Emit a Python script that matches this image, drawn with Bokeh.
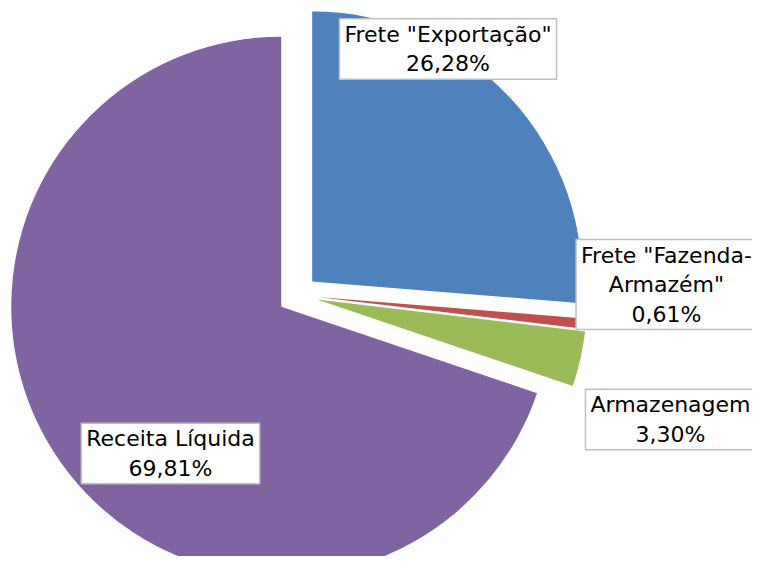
import math
from bokeh.plotting import figure
from bokeh.models import Range1d, ColumnDataSource
from bokeh.core.properties import value
from bokeh.embed import file_html
from bokeh.resources import INLINE

# ---- data ----
categories = ['Frete "Exportação"', 'Frete "Fazenda-\nArmazém"', 'Armazenagem', 'Receita Líquida']
shares = [26.28, 0.61, 3.30, 69.81]
colors = ["#4F81BD", "#C0504D", "#9BBB59", "#8064A2"]

# ---- layout (pixel-like coordinates, y measured downward from top) ----
W, H = 768, 572
FW, FH = 752, 556
CX, CY = 297.0, 294.5
RADIUS = 270.0
EXPLODE = 20.0
label_pos = [(447.5, 48.5), (666.0, 284.0), (670.0, 419.0), (170.0, 453.0)]

p = figure(width=FW, height=FH, output_backend="svg", toolbar_location=None,
           x_range=Range1d(0, FW), y_range=Range1d(H - FH, H),
           x_axis_location=None, y_axis_location=None, min_border=0)
p.grid.visible = False
p.outline_line_color = None
p.background_fill_color = "white"
p.border_fill_color = "white"

total = sum(shares)
xs, ys, starts, ends = [], [], [], []
acc = 0.0
for s in shares:
    a0 = acc / total * 360.0
    a1 = (acc + s) / total * 360.0
    mid = math.radians((a0 + a1) / 2)
    xs.append(CX + EXPLODE * math.sin(mid))
    ys.append((H - CY) + EXPLODE * math.cos(mid))
    starts.append(math.radians(90 - a0))
    ends.append(math.radians(90 - a1))
    acc += s

src = ColumnDataSource(dict(x=xs, y=ys, start=starts, end=ends, color=colors))
p.wedge(x="x", y="y", radius=RADIUS, start_angle="start", end_angle="end",
        direction="clock", fill_color="color", line_color=None, source=src)

texts = [f"{c}\n{s:.2f}%".replace(".", ",") for c, s in zip(categories, shares)]
lsrc = ColumnDataSource(dict(x=[lp[0] for lp in label_pos],
                             y=[H - lp[1] for lp in label_pos],
                             text=texts))
p.text(x="x", y="y", text="text", source=lsrc, text_align="center",
       text_baseline="middle", text_font=value("DejaVu Sans"),
       text_font_size="22px", text_color="black", text_line_height=1.18,
       background_fill_color="white", border_line_color="#BFBFBF",
       border_line_width=1.5, padding=(5, 3))

open("out.html", "w").write(file_html(p, INLINE))
